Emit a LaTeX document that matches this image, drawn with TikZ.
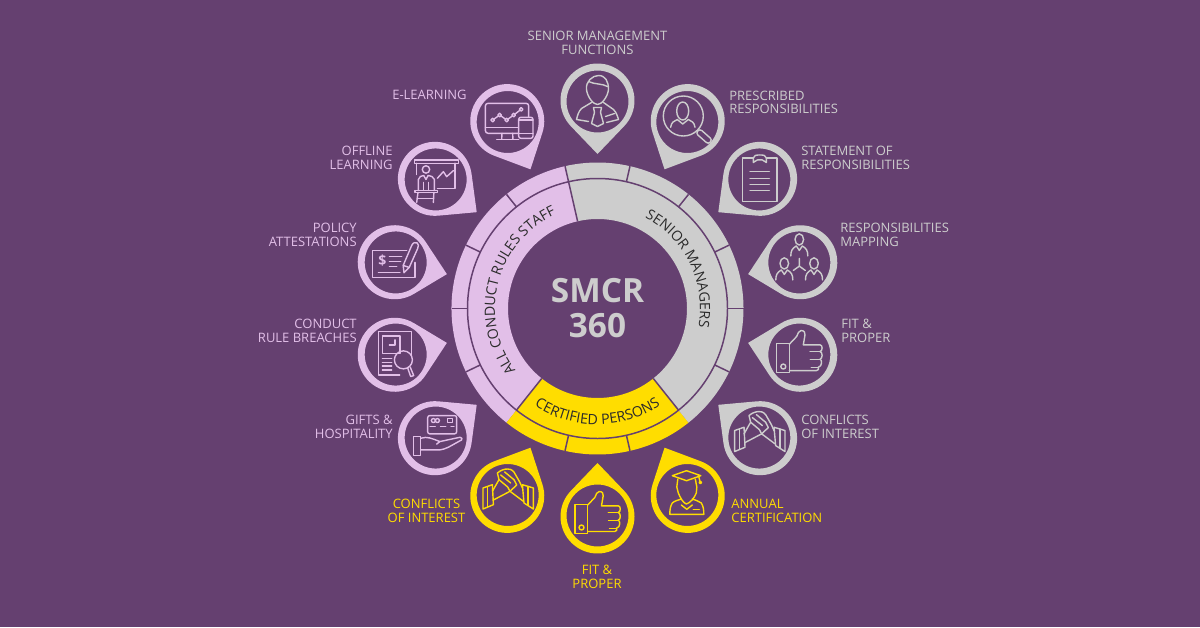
\documentclass[tikz,border=0pt]{standalone}
\usepackage{fontspec}
\setmainfont{Open Sans}
\usetikzlibrary{calc,decorations.text}
\definecolor{bgplum}{HTML}{654070}
\definecolor{smgrey}{HTML}{CDCDCD}
\definecolor{smlilac}{HTML}{E2BFE8}
\definecolor{smgold}{HTML}{FFDD00}
\definecolor{ringink}{HTML}{2B2B2B}
\newcommand{\ringfont}{\fontsize{8.1pt}{10pt}\selectfont}
\tikzset{
	pinlabel/.style={inner sep=0pt,font=\fontsize{7.4pt}{7.8pt}\selectfont},
	glyph/.style={line width=0.8pt,line join=round,line cap=round},
	ringtick/.style={line width=0.85pt,color=bgplum}
}
\def\ringarc[#1](#2:#3){\fill[#1] (#2:146) arc (#2:#3:146) -- (#3:89.5) arc (#3:#2:89.5) -- cycle;}
\def\markerpin[#1](#2)#3{
	\begin{scope}[shift={(hub)},rotate=#2]
		\fill[#1,even odd rule] (154.5,0) -- ($(208,0)+(-133.8:37)$) arc (-133.8:133.8:37) -- cycle (207,0) circle (31);
	\end{scope}
	\begin{scope}[shift={($(hub)+(#2:207)$)},color=#1,glyph]
		#3
	\end{scope}
}
\def\personmark(#1,#2){
	\draw (#1,#2) ellipse (4.3 and 5.6);
	\draw (#1-8.5,#2-16.5) .. controls (#1-8.5,#2-11) and (#1-7,#2-9) .. (#1-3,#2-6.5) -- (#1,#2-11) -- (#1+3,#2-6.5) .. controls (#1+7,#2-9) and (#1+8.5,#2-11) .. (#1+8.5,#2-16.5);
}
\def\iconboss{
	\draw (-11,12) .. controls (-12,20) and (-5,26) .. (1,26) .. controls (8,26) and (11,20) .. (11,12) .. controls (10,4) and (4,-3) .. (0,-3) .. controls (-4,-3) and (-10,4) .. (-11,12);
	\draw (-9,20) .. controls (-3,17) and (5,18) .. (10,15);
	\draw (-6,-1) -- (-16,-7) .. controls (-19,-10) and (-20,-14) .. (-21,-18) -- (-9,-20);
	\draw (6,-1) -- (16,-8) .. controls (19,-11) and (20,-15) .. (21,-18) -- (9,-21);
	\draw (-4,-6) -- (4,-6) -- (3,-11) -- (6,-22) -- (0,-25) -- (-6,-22) -- (-3,-11) -- cycle;
	\draw (8,-15) -- (17,-12);
}
\def\iconseek{
	\draw (-4,6) circle (20);
	\draw (-4.6,11) ellipse (6 and 9);
	\draw (-16.7,-5.3) .. controls (-16,0) and (-13,1) .. (-10,2.5) -- (-4.6,-2) -- (1,2.5) .. controls (4,1) and (7,0) .. (7.7,-5.3);
	\draw[rounded corners=1.5pt] (12.5,-6.8) -- (25,-17.8) -- (21,-22.2) -- (8.5,-11.2) -- cycle;
}
\def\iconclip{
	\draw (-6,21.5) -- (-16.7,21.5) -- (-16.7,-21.8) -- (17.7,-21.8) -- (17.7,21.5) -- (7,21.5);
	\draw (-6,17) -- (-6,21.5) .. controls (-6,24) and (-3,24.5) .. (0.5,24.5) .. controls (4,24.5) and (7,24) .. (7,21.5) -- (7,17) -- (3,19.5) -- (-2,19.5) -- cycle;
	\draw (-9.3,7.8) -- (10,7.8);
	\draw (-9.3,1.2) -- (10,1.2);
	\draw (-9.3,-4.8) -- (10,-4.8);
	\draw (-9.3,-11.2) -- (10,-11.2);
}
\def\icontree{
	\personmark(0,23)
	\personmark(-15,-1)
	\personmark(14.7,-1)
	\draw (0,4) -- (0,-3.7) -- (-6,-8);
	\draw (0,-3.7) -- (6,-8);
}
\def\iconthumb{
	\draw (-22.7,11.3) rectangle (-10,-17.7);
	\draw (-16,-12) circle (2.5);
	\draw (-10,10.3) -- (-2.7,18) .. controls (-1,21) and (-1,24) .. (1.7,24) .. controls (5,24) and (6,22) .. (5.7,19.7) -- (4,9.7) -- (20.7,9.7) .. controls (23.5,9.7) and (23.5,3.5) .. (20.7,3) .. controls (23.5,2.5) and (23.5,-4) .. (20.7,-4.7) .. controls (23,-5) and (23,-12) .. (19,-12.7) .. controls (20,-14) and (19,-16) .. (17.3,-16) -- (-10,-16);
	\draw (10.7,3) -- (20.7,3);
	\draw (11,-4.7) -- (20.7,-4.7);
	\draw (12,-12.7) -- (19,-12.7);
}
\def\iconshake{
	\draw (-24.7,7) -- (-15.3,10.3) -- (-14.3,-9.7) -- (-24.7,-14) -- cycle;
	\draw (-20,8) -- (-20,-11.5);
	\draw (14.7,10.3) -- (25.7,7) -- (25.7,-14) -- (16.3,-8) -- cycle;
	\draw (20.5,8.5) -- (20.5,-10.5);
	\draw (-15.3,3.7) -- (-8.7,15.3) -- (-10.3,22) .. controls (-7,25) and (-3,26) .. (-0.3,26) .. controls (4,26) and (6,24) .. (8,20) -- (12,13) -- (14.7,7);
	\draw (-14.3,-5) -- (2.3,3.7) -- (15.7,-6.3);
	\draw (-8.7,15.3) -- (0,8) -- (2.3,3.7);
	\draw (6.3,15.3) -- (9,10) -- (2.3,3.7);
	\draw (-7,20) -- (3,12);
	\draw (-3,23) -- (6.3,15.3);
}
\def\icongrad{
	\draw (-15,19.3) -- (-0.8,24.3) -- (13.5,19.3) -- (-0.8,14.3) -- cycle;
	\draw (11,20) -- (13,12.5);
	\draw (13,12.5) circle (1.2);
	\draw (-9.5,16) -- (-10.5,8) -- (-9,2) .. controls (-7,-3) and (-4,-8) .. (-1,-9) .. controls (3,-8) and (7,-3) .. (9,2) -- (9.5,8) -- (8,16);
	\draw (-6,-4) .. controls (-9,-5) and (-13,-6) .. (-15,-8) .. controls (-17,-11) and (-17.5,-15) .. (-17.5,-19.3) -- (16.5,-19.3) .. controls (16.5,-15) and (16,-11) .. (14,-8) .. controls (11,-6) and (8,-5) .. (5,-4);
	\draw (-6,-10) -- (-0.5,-14.3) -- (5,-10);
	\draw (6,-14.3) -- (12,-14.3);
}
\def\iconcard{
	\draw[rounded corners=1.2pt] (-8,22) rectangle (21,3.7);
	\draw (-2.3,17) circle (2);
	\draw (1.7,17) circle (2);
	\draw (11.7,19.3) rectangle (17,15);
	\draw[dashed] (-5.7,11) -- (18.3,11);
	\draw (-22.3,1) rectangle (-15,-18);
	\draw (-15,-0.7) .. controls (-8,1.5) and (-4,-1) .. (4.3,-4) -- (1,-6.5) (4.3,-4) -- (24.3,0.3) .. controls (26.5,0.5) and (26.5,-2) .. (26,-2.3) -- (12.7,-9.7) .. controls (9,-11) and (7,-12.3) .. (4.3,-12.3) -- (-15,-12.3);
}
\def\icondoc{
	\draw (4,-20.3) -- (-17.3,-20.3) -- (-17.3,23) -- (16,23) -- (16,0);
	\draw (-13.3,18.7) rectangle (4.3,1.3);
	\draw (-6.3,9.7) -- (-0.7,9.7) -- (-0.7,14.7);
	\draw (-13.3,-3.7) -- (-4,-3.7);
	\draw (-13.3,-7.7) -- (-4,-7.7);
	\draw (-13.3,-11.3) -- (-4,-11.3);
	\draw (-13.3,-15.3) -- (-4,-15.3);
	\draw (7.7,-5.3) circle (9);
	\draw (12,-13.5) -- (15,-22) -- (18,-21) -- (14.5,-12.5);
}
\def\iconcheque{
	\draw (11,11.7) -- (-23,11.7) -- (-23,-15) -- (19.3,-15) -- (19.3,0);
	\node[inner sep=0pt,font=\bfseries\fontsize{8pt}{8pt}\selectfont] (chequedollar) at (-13.3,1.7) {\$};
	\draw (-6.3,5.7) -- (6,5.7);
	\draw (-6.3,0.7) -- (5,0.7);
	\draw (-6.3,-4.3) -- (1,-4.3);
	\draw (-17.3,-10.3) -- (4.3,-10.3);
	\draw (8.3,-10.3) -- (7.5,-3) -- (16,17) .. controls (17.5,20) and (19.5,20.5) .. (21.5,19.5) .. controls (23,18.5) and (23,16.5) .. (22,14) -- (13.5,-5) -- cycle;
	\draw (7.5,-3) -- (13.5,-5);
}
\def\iconteach{
	\draw (-21.3,19.5) rectangle (22.7,16.2);
	\draw (-19.3,16.2) -- (-19.3,5);
	\draw (19.3,16.2) -- (19.3,-8.8) -- (1.7,-8.8);
	\draw (1.7,1.2) -- (7.7,7.8) -- (11,2.8) -- (17.7,8.8);
	\draw (-9.7,10) circle (3.7);
	\draw (-17.3,-11) -- (-17.3,0) .. controls (-17,3) and (-14,3.5) .. (-12,4) -- (-9.7,0) -- (-7.5,4) .. controls (-5,3.5) and (-2,3) .. (-1.3,0) -- (-1.3,-11);
	\draw (-12,-11) -- (-12,-3) (-7,-11) -- (-7,-3);
	\draw (-20.7,-13) rectangle (1.7,-11);
	\draw (-17.7,-13) -- (-19,-23);
	\draw (-1.8,-13) -- (-2.3,-23);
	\draw (-18.3,-19) -- (-2.3,-19);
}
\def\iconscreen{
	\draw[rounded corners=1.5pt] (11,-11.3) -- (-22.3,-11.3) -- (-22.3,18.7) -- (21,18.7) -- (21,4.7);
	\draw (-22.3,-5.3) -- (11,-5.3);
	\draw (-5.7,-11.3) -- (-6,-17);
	\draw (5,-11.3) -- (5.2,-17);
	\draw (-11,-17.3) -- (11,-17.3);
	\draw (-15,2) -- (-8,7) -- (-1,2) -- (6,7) -- (13.5,12.7);
	\foreach \dotx/\doty in {-15/2,-8/7,-1/2,6/7,13.5/12.7}
		\draw[fill=bgplum] (\dotx,\doty) circle (1.8);
	\draw[fill=bgplum,rounded corners=1.2pt] (11,4.7) rectangle (25.3,-16.3);
	\draw (11,2) -- (25.3,2);
	\draw (11,-11.3) -- (25.3,-11.3);
}

\begin{document}
\begin{tikzpicture}[x=0.02cm,y=0.02cm]
	%%%%% BACKDROP %%%%%
	\fill[bgplum] (0,0) rectangle (1200,627);
	\useasboundingbox (0,0) rectangle (1200,627);
	\coordinate (hub) at (597.5,318.5);
	
	%%%%% RING %%%%%
	\begin{scope}[shift={(hub)}]
		\ringarc[smlilac](102.857:231.43)
		\ringarc[smgold](231.43:308.57)
		\ringarc[smgrey](-51.43:102.857)
		
		\draw[line width=0.85pt,color=bgplum] (0,0) circle (130);
		
		\draw[ringtick] (102.857:89.5) -- (102.857:146);
		\draw[ringtick] (231.43:89.5) -- (231.43:130);
		\draw[ringtick] (308.57:89.5) -- (308.57:130);
		
		\foreach \tickang in {25.714,51.43,77.143,0,-25.714,128.57,154.29,180,205.71,257.14,282.86}
			\draw[ringtick] (\tickang:130) -- (\tickang:146);
		
		\path[decorate,decoration={text along path,text align=center,text color=ringink,text={|\ringfont|SENIOR MANAGERS}}] (72:102.5) arc (72:-20:102.5);
		\path[decorate,decoration={text along path,text align=center,text color=ringink,text={|\ringfont|ALL CONDUCT RULES STAFF}}] (228:102.5) arc (228:103:102.5);
		\path[decorate,decoration={text along path,text align=center,text color=ringink,text={|\ringfont|CERTIFIED PERSONS}}] (228:116) arc (228:312:116);
	\end{scope}
	
	\node[inner sep=0pt,align=center,text=smgrey,font=\bfseries\fontsize{19pt}{20pt}\selectfont] (hubtext) at (597.5,319) {SMCR\\360};
	
	%%%%% PINS %%%%%
	\markerpin[smgrey](90){\iconboss}
	\markerpin[smgrey](64.286){\iconseek}
	\markerpin[smgrey](38.571){\iconclip}
	\markerpin[smgrey](12.857){\icontree}
	\markerpin[smgrey](-12.857){\iconthumb}
	\markerpin[smgrey](-38.571){\iconshake}
	
	\markerpin[smgold](-64.286){\icongrad}
	\markerpin[smgold](-90){\iconthumb}
	\markerpin[smgold](-115.714){\iconshake}
	
	\markerpin[smlilac](218.571){\iconcard}
	\markerpin[smlilac](192.857){\icondoc}
	\markerpin[smlilac](167.143){\iconcheque}
	\markerpin[smlilac](141.429){\iconteach}
	\markerpin[smlilac](115.714){\iconscreen}
	
	%%%%% LABELS %%%%%
	\node[pinlabel,align=center,text=smgrey] (smflabel) at (597.5,584) {SENIOR MANAGEMENT\\FUNCTIONS};
	\node[pinlabel,align=left,anchor=west,text=smgrey] (prescribedlabel) at (729,524.5) {PRESCRIBED\\RESPONSIBILITIES};
	\node[pinlabel,align=left,anchor=west,text=smgrey] (statementlabel) at (801,469.5) {STATEMENT OF\\RESPONSIBILITIES};
	\node[pinlabel,align=left,anchor=west,text=smgrey] (mappinglabel) at (840,392.5) {RESPONSIBILITIES\\MAPPING};
	\node[pinlabel,align=left,anchor=west,text=smgrey] (fitlabel) at (841,296) {FIT \&\\PROPER};
	\node[pinlabel,align=left,anchor=west,text=smgrey] (conflictlabel) at (801,200) {CONFLICTS\\OF INTEREST};
	
	\node[pinlabel,align=left,anchor=west,text=smgold] (annuallabel) at (731,116) {ANNUAL\\CERTIFICATION};
	\node[pinlabel,align=center,text=smgold] (certfitlabel) at (597,50) {FIT \&\\PROPER};
	\node[pinlabel,align=center,text=smgold] (certconflictlabel) at (426.5,116) {CONFLICTS\\OF INTEREST};
	
	\node[pinlabel,align=right,anchor=east,text=smlilac] (giftslabel) at (393,200) {GIFTS \&\\HOSPITALITY};
	\node[pinlabel,align=right,anchor=east,text=smlilac] (breachlabel) at (357,296) {CONDUCT\\RULE BREACHES};
	\node[pinlabel,align=right,anchor=east,text=smlilac] (policylabel) at (357,392.5) {POLICY\\ATTESTATIONS};
	\node[pinlabel,align=right,anchor=east,text=smlilac] (offlinelabel) at (393,469.5) {OFFLINE\\LEARNING};
	\node[pinlabel,anchor=east,text=smlilac] (elearnlabel) at (467,532) {E-LEARNING};
\end{tikzpicture}
\end{document}
